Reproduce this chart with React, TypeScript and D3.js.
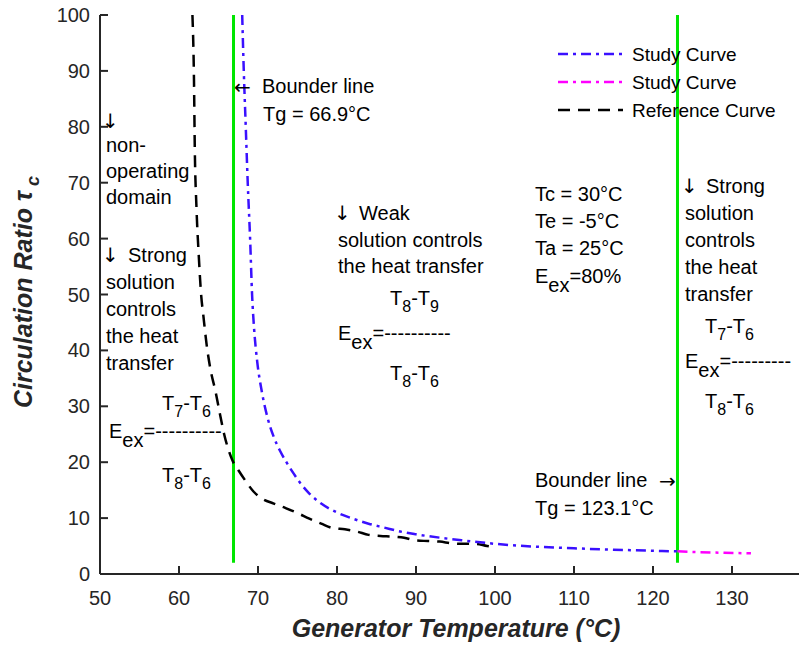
import React from "react";
import * as d3 from "d3";

// Axis ticks
const xTicks = [50, 60, 70, 80, 90, 100, 110, 120, 130];
const yTicks = [0, 10, 20, 30, 40, 50, 60, 70, 80, 90, 100];

// Study curve, below the upper boundary temperature (blue)
const studyT = [68.0, 68.2, 68.45, 68.7, 69.0, 69.25, 69.5, 69.9, 70.5, 71.2, 72.0, 72.8, 73.6, 74.5, 75.5, 76.5, 78.0, 80.0, 82.0, 84.0, 86.0, 88.0, 90.0, 93.0, 96.0, 100.0, 105.0, 110.0, 115.0, 120.0, 123.1];
const studyTau = [100, 90, 80, 70, 60, 50, 44, 38, 32.5, 28, 24.5, 22.0, 20.0, 18.0, 16.0, 14.4, 12.6, 11.0, 9.9, 9.0, 8.3, 7.6, 7.1, 6.5, 6.0, 5.4, 4.9, 4.6, 4.35, 4.15, 4.05];

// Study curve, above the upper boundary temperature (magenta)
const studyHighT = [123.1, 126.0, 129.0, 132.4];
const studyHighTau = [4.05, 3.9, 3.8, 3.7];

// Reference curve (black dashed)
const refT = [61.7, 61.9, 62.0, 62.2, 62.5, 62.8, 63.1, 63.5, 64.0, 64.6, 65.2, 65.7, 66.2, 66.8, 67.5, 68.5, 69.4, 70.5, 72.0, 73.5, 75.0, 76.5, 78.0, 79.5, 81.0, 82.5, 84.0, 85.5, 87.0, 88.5, 90.0, 91.5, 93.0, 94.5, 96.0, 97.5, 99.0, 100.0];
const refTau = [100, 88, 76, 66, 57, 50, 46, 41, 36.5, 32.8, 28.5, 25.1, 22.5, 20.2, 18.6, 16.5, 14.8, 13.5, 12.6, 11.8, 10.9, 9.9, 9.0, 8.2, 8.0, 7.6, 7.0, 6.8, 6.7, 6.5, 6.0, 5.9, 5.8, 5.5, 5.4, 5.4, 5.0, 4.8];

// Boundary temperatures (°C)
const boundLow = 66.9;
const boundHigh = 123.1;

const legendLabels = ["Study Curve", "Study Curve", "Reference Curve"];

const W = 799;
const H = 646;
const FONT = "Arial, 'Liberation Sans', Helvetica, sans-serif";
const ARROW_FONT = "'DejaVu Sans'";
const AXIS = "#262626";

type Piece = [string, boolean];

function RichText({ x, y, pieces, size = 20, subSize = 16, shift = 7 }: { x: number; y: number; pieces: Piece[]; size?: number; subSize?: number; shift?: number }) {
  let cur = 0;
  return (
    <text x={x} y={y} fontSize={size} fontFamily={FONT} fill="#000">
      {pieces.map(([t, sub], i) => {
        const target = sub ? shift : 0;
        const dy = target - cur;
        cur = target;
        return (
          <tspan key={i} dy={dy} fontSize={sub ? subSize : size}>
            {t}
          </tspan>
        );
      })}
    </text>
  );
}

function Lines({ x, y, lines, gap }: { x: number; y: number; lines: string[]; gap: number }) {
  return (
    <g>
      {lines.map((l, i) => (
        <text key={i} x={x} y={y + i * gap} fontSize={20} fontFamily={FONT} fill="#000">
          {l}
        </text>
      ))}
    </g>
  );
}

function Arrow({ x, y, ch, size = 20 }: { x: number; y: number; ch: string; size?: number }) {
  return (
    <text x={x} y={y} fontSize={size} fontFamily={ARROW_FONT} fontWeight="normal" fill="#000">
      {ch + "\uFE0E"}
    </text>
  );
}

export default function App() {
  const x = d3.scaleLinear().domain([50, 140]).range([100, 811]);
  const y = d3.scaleLinear().domain([0, 100]).range([574, 15]);

  const line = d3
    .line<[number, number]>()
    .x((d) => x(d[0]))
    .y((d) => y(d[1]))
    .curve(d3.curveMonotoneX);

  const study = studyT.map((t, i) => [t, studyTau[i]] as [number, number]);
  const studyHigh = studyHighT.map((t, i) => [t, studyHighTau[i]] as [number, number]);
  const ref = refT.map((t, i) => [t, refTau[i]] as [number, number]);

  const dashDot = "10,5,3,5";
  const dashed = "12,8";

  return (
    <svg width={W} height={H} style={{ position: "absolute", left: 0, top: 0, background: "#fff" }}>
      <rect width={W} height={H} fill="#fff" />

      {/* boundary lines */}
      {[boundLow, boundHigh].map((b) => (
        <line key={b} x1={x(b)} x2={x(b)} y1={y(100)} y2={y(2)} stroke="#00e600" strokeWidth={3} />
      ))}

      {/* curves */}
      <path d={line(ref) || ""} fill="none" stroke="#000" strokeWidth={2.5} strokeDasharray={dashed} />
      <path d={line(study) || ""} fill="none" stroke="#3a10ff" strokeWidth={2.5} strokeDasharray={dashDot} />
      <path d={line(studyHigh) || ""} fill="none" stroke="#ff00ff" strokeWidth={2.5} strokeDasharray={dashDot} />

      {/* axes */}
      <line x1={x(50)} x2={W} y1={y(0)} y2={y(0)} stroke={AXIS} strokeWidth={2} />
      <line x1={x(50)} x2={x(50)} y1={y(0)} y2={y(100)} stroke={AXIS} strokeWidth={2} />
      {xTicks.map((t) => (
        <g key={"x" + t}>
          <line x1={x(t)} x2={x(t)} y1={y(0)} y2={y(0) - 8} stroke={AXIS} strokeWidth={2} />
          <text x={x(t)} y={605} textAnchor="middle" fontSize={20} fontFamily={FONT} fill={AXIS}>
            {t}
          </text>
        </g>
      ))}
      {yTicks.map((t) => (
        <g key={"y" + t}>
          <line x1={x(50)} x2={x(50) + 8} y1={y(t)} y2={y(t)} stroke={AXIS} strokeWidth={2} />
          <text x={90} y={y(t) + 7} textAnchor="end" fontSize={20} fontFamily={FONT} fill={AXIS}>
            {t}
          </text>
        </g>
      ))}

      {/* axis titles */}
      <text x={456} y={637} textAnchor="middle" fontSize={25} fontWeight="bold" fontStyle="italic" fontFamily={FONT} fill={AXIS}>
        Generator Temperature (°C)
      </text>
      <text transform="translate(32,292) rotate(-90)" textAnchor="middle" fontSize={25} fontWeight="bold" fontStyle="italic" fontFamily={FONT} fill={AXIS}>
        Circulation Ratio <tspan>τ</tspan>
        <tspan fontSize={18} dy={7}> c</tspan>
      </text>

      {/* legend */}
      {[
        { c: "#3a10ff", d: dashDot },
        { c: "#ff00ff", d: dashDot },
        { c: "#000", d: dashed },
      ].map((s, i) => (
        <g key={"lg" + i}>
          <line x1={558} x2={623} y1={54 + i * 28} y2={54 + i * 28} stroke={s.c} strokeWidth={2.5} strokeDasharray={s.d} />
          <text x={632} y={61 + i * 28} fontSize={19} fontFamily={FONT} fill="#000">
            {legendLabels[i]}
          </text>
        </g>
      ))}

      {/* left annotations */}
      <Arrow x={102} y={128} ch="↓" />
      <Lines x={106} y={152} lines={["non-", "operating", "domain"]} gap={26} />
      <Arrow x={102} y={262} ch="↓" />
      <Lines x={128} y={262} lines={["Strong"]} gap={27} />
      <Lines x={106} y={289} lines={["solution", "controls", "the heat", "transfer"]} gap={27} />
      <RichText x={162} y={410} pieces={[["T", false], ["7", true], ["-T", false], ["6", true]]} />
      <RichText x={109} y={438} pieces={[["E", false], ["ex", true], ["=----------", false]]} subSize={20} shift={9} />
      <RichText x={162} y={482} pieces={[["T", false], ["8", true], ["-T", false], ["6", true]]} />

      {/* lower boundary label */}
      <Arrow x={234} y={94} ch="←" />
      <Lines x={262} y={93} lines={["Bounder line"]} gap={28} />
      <Lines x={263} y={121} lines={["Tg = 66.9°C"]} gap={28} />

      {/* middle annotations */}
      <Arrow x={334} y={220} ch="↓" />
      <Lines x={359} y={220} lines={["Weak"]} gap={26.5} />
      <Lines x={338} y={246.5} lines={["solution controls", "the heat transfer"]} gap={26.5} />
      <RichText x={390} y={305} pieces={[["T", false], ["8", true], ["-T", false], ["9", true]]} />
      <RichText x={338} y={340} pieces={[["E", false], ["ex", true], ["=----------", false]]} subSize={20} shift={9} />
      <RichText x={390} y={380} pieces={[["T", false], ["8", true], ["-T", false], ["6", true]]} />

      {/* operating conditions */}
      <Lines x={535} y={201} lines={["Tc = 30°C", "Te = -5°C", "Ta = 25°C"]} gap={27} />
      <RichText x={535} y={283} pieces={[["E", false], ["ex", true], ["=80%", false]]} subSize={20} shift={9} />

      {/* right annotations */}
      <Arrow x={681} y={193} ch="↓" />
      <Lines x={706} y={193} lines={["Strong"]} gap={27} />
      <Lines x={685} y={220} lines={["solution", "controls", "the heat", "transfer"]} gap={27} />
      <RichText x={705} y={333} pieces={[["T", false], ["7", true], ["-T", false], ["6", true]]} />
      <RichText x={685} y={368} pieces={[["E", false], ["ex", true], ["=---------", false]]} subSize={20} shift={9} />
      <RichText x={705} y={408} pieces={[["T", false], ["8", true], ["-T", false], ["6", true]]} />

      {/* upper boundary label */}
      <Lines x={535} y={487} lines={["Bounder line"]} gap={28} />
      <Arrow x={659} y={488} ch="→" />
      <Lines x={535} y={515} lines={["Tg = 123.1°C"]} gap={28} />
    </svg>
  );
}
